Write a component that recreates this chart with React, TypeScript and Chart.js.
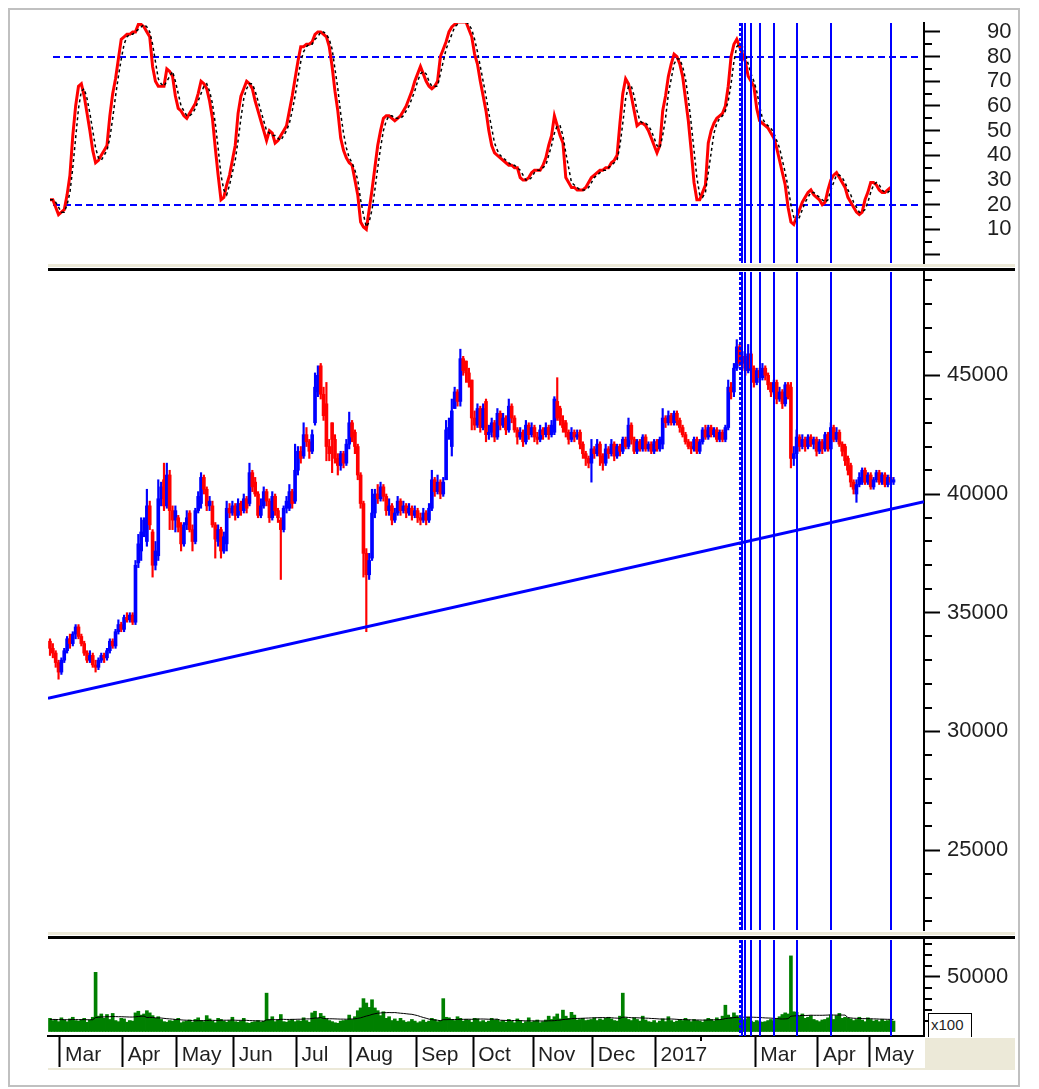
import React, { useEffect, useRef } from 'react';
import { Chart, registerables } from 'chart.js';

Chart.register(...registerables);

// ---------- data ----------
const MONTH_START = [4, 26, 45, 65, 87, 106, 129, 149, 170, 191, 213, 229, 248, 270, 288];
const MONTH_LABELS = ['Mar', 'Apr', 'May', 'Jun', 'Jul', 'Aug', 'Sep', 'Oct', 'Nov', 'Dec', '2017', '', 'Mar', 'Apr', 'May'];

const OPEN = [
  33800,33500,33300,32900,32500,33000,33400,33900,33700,34100,
  34400,34000,33700,33300,33000,33200,32800,32700,33000,33200,
  33100,33400,33800,33600,34200,34500,34300,34800,34700,34900,
  34600,37100,37600,38400,38000,39500,38400,37000,37400,39800,
  40600,39500,40800,39300,38900,39000,38600,37900,38700,39200,
  38500,38000,39300,39600,40700,40200,39500,39500,38700,38000,
  38500,37600,37900,39400,39200,39500,39100,39600,39300,39800,
  39600,40900,40500,40000,39100,39500,40100,39700,39000,39900,
  39300,38900,38500,39400,39400,40100,39700,41000,41800,41600,
  42500,42200,41800,43000,44300,45400,44200,43800,42000,43000,
  42300,41500,41200,41700,41300,42100,43000,42600,42000,40800,
  39600,37500,36600,37300,39200,40000,39800,40300,39900,39300,
  39500,38900,39200,39700,39300,39500,39200,39400,39100,39300,
  39000,38900,39200,38900,39400,40600,40100,40500,40000,40600,
  42700,42000,43600,44300,43900,45700,45600,45100,44800,43200,
  42900,43600,42800,43900,42500,42600,43000,42400,43400,42900,
  43200,42700,43700,43200,42700,42400,42600,42200,42900,42500,
  42800,42400,42300,42700,42500,42800,42500,42600,43900,43600,
  43100,43000,42600,42300,42600,42400,42600,42100,41700,41500,
  41300,41900,41700,42100,41600,41300,41900,41700,42100,41600,
  42000,41800,42300,42000,42900,42300,41800,42200,41900,42400,
  41900,42100,41800,42200,41900,42100,43200,43000,43300,43000,
  43400,43100,42800,42500,42200,42000,41900,42300,41800,42200,
  42700,42400,42800,42500,42700,42300,42600,42300,42800,44500,
  44300,45300,46200,45500,45800,45200,45900,45300,44700,45200,
  44900,45300,45000,44600,44300,44700,44000,44300,43800,44600,
  44500,41500,41700,42400,42000,42300,42000,42400,42100,42300,
  41800,42200,41900,42500,41900,42800,42300,42600,42100,42000,
  41500,41200,40500,40000,40400,40500,41000,40500,40800,40300,
  40600,40900,40500,40800,40400,40700,40500,
];
const HIGH = [
  33900,33700,33400,33000,33100,33500,34000,34100,34200,34500,
  34500,34100,33800,33400,33400,33300,33000,33100,33300,33300,
  33500,33900,33900,34300,34700,34600,34900,35000,35000,35000,
  37200,38300,39000,39000,40200,39700,38500,38000,40600,40500,
  41300,41300,41000,39500,39500,39100,38800,38800,39300,39300,
  38700,39400,40100,40900,40800,40300,39900,39700,38800,38700,
  38600,38400,39700,39600,39700,39600,39800,39700,40000,39900,
  41300,41000,40700,40100,39800,40300,40200,39800,40100,40000,
  39400,39000,39500,39900,40400,40200,42100,42000,42000,43000,
  42800,42300,42700,45100,45400,45500,44500,44700,42300,43000,
  42500,41700,41800,41800,42300,43450,43100,42700,42100,40900,
  39700,37700,37500,40200,40200,40400,40500,40400,40000,39800,
  39600,39400,39900,39800,39700,39600,39600,39500,39500,39400,
  39200,39400,39300,39600,41000,40700,40800,40600,40700,43100,
  43200,44000,44500,44400,46100,45800,45600,45300,44800,43500,
  43800,43700,43800,44000,42900,43200,43100,43600,43500,43400,
  43300,44000,43800,43300,42800,42800,42700,43100,43000,43000,
  42900,42600,42900,42800,43000,42900,43100,44100,44900,43700,
  43300,43100,42700,42800,42700,42700,42700,42200,41800,41600,
  42300,42000,42300,42200,41700,42100,42000,42300,42200,42100,
  42100,42400,42400,43200,43000,42400,42300,42300,42500,42500,
  42200,42200,42300,42300,42400,43600,43300,43500,43400,43500,
  43500,43200,42900,42600,42300,42200,42400,42400,42300,42800,
  42900,42900,42900,42800,42800,42700,42700,42900,44800,44700,
  45500,46500,46300,46000,45900,46300,46000,45400,45300,45300,
  45500,45400,45100,44700,44800,44800,44500,44400,44700,44700,
  44700,42000,42700,42500,42500,42400,42500,42500,42400,42400,
  42300,42300,42600,42600,43000,42900,42800,42700,42200,42100,
  41600,41300,40600,40600,40900,41100,41100,40900,40900,40700,
  41000,41000,40900,40900,40800,40800,40700,
];
const LOW = [
  33200,33100,32700,32200,32400,32900,33300,33500,33600,33900,
  33900,33600,33200,32900,32900,32700,32500,32600,32900,32900,
  33000,33300,33500,33500,34100,34200,34200,34600,34600,34500,
  34500,36900,37200,38200,37800,38500,36500,36800,37200,39500,
  39300,39400,38500,38500,38400,38400,37600,37800,38500,38400,
  37600,37900,39200,39400,40000,39300,39300,38600,37300,37800,
  37300,37500,37600,39000,39100,38900,39000,39100,39200,39200,
  39500,40100,39900,39000,39000,39400,39500,38800,38900,39100,
  38800,36400,38400,39200,39300,39400,39600,40800,41300,41500,
  42000,41500,41700,42900,44100,44000,43100,41400,41400,40900,
  41300,40800,41000,41100,41200,41900,42200,41700,40600,39400,
  36500,34200,36400,37200,39000,39600,39700,39700,39100,39100,
  38700,38800,39100,39100,39200,39000,39100,38900,39000,38800,
  38700,38800,38700,38800,39300,39900,40000,39800,39900,40600,
  42300,41600,43600,43700,43700,45000,44700,44500,42700,42700,
  42800,42600,42700,42200,42300,42400,42200,42300,42700,42800,
  42500,42600,43000,42600,42100,42300,42000,42100,42300,42400,
  42200,42100,42200,42300,42400,42300,42400,42500,43100,42900,
  42600,42400,42100,42200,42200,42300,41900,41500,41200,41100,
  40500,41500,41600,41200,41000,41200,41500,41600,41400,41500,
  41600,41700,41900,41900,42100,41700,41700,41800,41800,41800,
  41800,41700,41700,41800,41800,41900,42800,42900,42900,42900,
  42900,42600,42400,42100,41900,41700,41800,41700,41700,42100,
  42300,42300,42400,42400,42200,42200,42200,42200,42700,44000,
  44100,45200,45400,45300,45000,45100,45100,44500,44600,44700,
  44800,44800,44400,44100,44200,43800,43900,43600,43700,44000,
  41100,41200,41500,41800,41900,41800,41900,42000,41900,41600,
  41700,41700,41800,41800,41800,42200,42200,42000,41600,41200,
  40800,40300,40000,39650,40300,40400,40400,40400,40200,40200,
  40500,40400,40400,40300,40300,40400,40400,
];
const CLOSE = [
  33500,33300,32900,32500,33000,33400,33900,33700,34100,34400,
  34000,33700,33300,33000,33200,32800,32700,33000,33200,33100,
  33400,33800,33600,34200,34500,34300,34800,34700,34900,34600,
  37000,37900,38400,38900,39500,38700,37000,37600,39800,40300,
  39500,40800,39300,38900,39300,38600,37900,38700,39000,38500,
  38000,39300,39900,40700,40200,39500,39700,38700,38100,38500,
  37600,38200,39400,39200,39500,39100,39600,39300,39800,39400,
  40900,40300,40000,39100,39500,40100,39700,39000,39900,39300,
  39000,38500,39400,39700,40100,39600,41000,41800,41500,42500,
  42200,41800,42500,44500,45000,44200,43300,42000,41700,42300,
  41500,41200,41700,41300,42100,43000,42400,42000,40800,39600,
  37500,36600,37200,39200,40000,39800,40300,39900,39300,39500,
  38900,39200,39700,39300,39500,39200,39400,39100,39300,39000,
  38900,39200,38900,39400,40600,40100,40500,40000,40500,42700,
  42800,43500,44300,43900,45700,45200,45100,44700,43200,42900,
  43600,42800,43600,42500,42600,43000,42400,43400,42900,43200,
  42700,43700,43200,42700,42400,42600,42200,42900,42500,42800,
  42400,42300,42700,42500,42800,42500,42900,44000,43200,43100,
  42800,42600,42300,42600,42400,42500,42100,41700,41500,41300,
  41900,41700,42100,41600,41300,41900,41700,42100,41600,42000,
  41800,42300,42000,42900,42300,41800,42200,41900,42400,41900,
  42100,41800,42200,41900,42300,43200,43000,43300,43000,43400,
  43100,42800,42500,42200,42000,41900,42300,41800,42200,42700,
  42400,42800,42500,42700,42300,42600,42300,42800,44500,44300,
  45300,46200,45500,45800,45200,45900,45300,44700,45200,44900,
  45300,45000,44600,44300,44700,44000,44300,43800,44600,44100,
  41500,41700,42400,42000,42300,42000,42400,42100,42300,41800,
  42200,41900,42500,41900,42800,42300,42600,42100,41800,41400,
  41000,40500,40200,40400,40700,41000,40500,40800,40300,40600,
  40900,40500,40800,40400,40700,40500,40600,
];

const STOCH_K = [
  22,22,19,16,17,18,24,32,48,60,
  68,69,64,57,50,42,37,38,40,42,
  44,56,65,71,79,87,88,89,89,90,
  90,93,93,92,90,88,76,70,68,68,
  68,75,74,72,64,59,58,56,55,57,
  59,61,65,70,69,67,62,55,43,32,
  22,23,28,32,38,44,57,64,67,70,
  69,67,62,58,54,50,46,50,49,45,
  46,48,50,52,58,64,71,78,84,84,
  85,85,86,89,90,90,89,88,84,76,
  66,58,47,42,39,37,36,30,24,13,
  11,10,18,26,35,44,50,55,56,56,
  55,54,55,56,58,60,63,66,70,73,
  76,73,70,68,67,68,70,80,83,86,
  90,92,93,94,94,94,94,91,88,81,
  77,70,64,58,50,44,41,40,39,38,
  37,36,36,35,35,31,30,30,31,33,
  34,34,34,36,39,44,48,56,52,48,
  45,31,29,27,27,26,26,26,27,29,
  31,32,33,34,34,35,35,37,38,40,
  53,65,71,69,64,58,52,53,53,52,
  50,47,44,41,44,58,64,72,77,81,
  80,77,72,63,54,42,29,22,22,25,
  28,45,50,53,55,56,57,60,68,80,
  85,87,84,81,78,72,70,68,59,54,
  53,52,51,49,47,43,38,33,28,19,
  13,12,15,18,21,23,25,26,24,23,
  22,20,21,26,30,32,33,31,29,27,
  23,21,19,17,16,17,22,25,29,29,
  28,26,25,25,26,27,
];
const STOCH_D = [
  22,22,21,19,17,17,20,25,35,47,
  59,66,67,63,57,50,43,39,38,40,
  42,47,55,64,72,79,85,88,89,89,
  90,91,92,93,92,90,85,78,71,69,
  68,70,72,74,70,65,60,58,56,56,
  57,59,62,65,68,69,66,61,53,43,
  32,26,24,28,33,38,46,55,63,67,
  69,69,66,62,58,54,50,49,48,48,
  47,46,48,50,53,58,64,71,78,82,
  84,85,85,87,88,90,90,89,87,83,
  75,67,57,49,43,39,37,34,30,22,
  16,11,13,18,26,35,43,50,54,56,
  56,55,55,55,56,58,60,63,66,70,
  73,74,73,70,68,68,68,73,78,83,
  86,89,92,93,94,94,94,93,91,87,
  82,76,70,64,57,51,45,42,40,39,
  38,37,36,36,35,34,32,30,30,31,
  33,34,34,35,36,40,44,49,52,52,
  48,41,35,29,28,27,26,26,26,27,
  29,31,32,33,34,34,35,36,37,38,
  44,53,63,68,68,64,58,54,53,53,
  52,50,47,44,43,48,55,65,71,77,
  79,79,76,71,63,53,42,31,24,23,
  25,33,41,49,53,55,56,58,62,69,
  78,84,85,84,81,77,73,70,66,60,
  55,53,52,51,49,46,43,38,33,27,
  20,15,13,15,18,21,23,25,25,24,
  23,22,21,22,26,29,32,32,31,29,
  26,24,21,19,17,17,18,21,25,28,
  29,28,26,25,25,26,
];

const VOLUME = [
  12000,10000,11000,9000,12500,10500,9000,11500,13000,10000,
  9500,11000,12000,8500,10500,13000,54000,14000,16000,12000,
  15500,11000,16500,10000,9000,12000,11500,8500,10000,9500,
  17000,18500,15000,16000,19000,17000,14500,12000,13500,11000,
  9000,8500,10000,9500,11000,12000,8000,9000,9500,10500,
  8500,11000,12500,10000,9000,14500,11500,9500,8000,12000,
  11000,9500,8500,10000,13000,9000,8500,9500,12000,8000,
  7500,8500,9000,10000,8500,9500,35000,11000,13500,9000,
  10500,15500,9000,8500,10000,11000,9000,10000,9500,12500,
  10000,8500,17000,18500,12000,16500,14000,11500,10000,9000,
  8000,7500,9500,10000,10500,15000,11000,13500,19000,21500,
  30000,26000,22000,29000,21500,19000,14500,18000,12000,13500,
  10000,11500,9500,12000,10000,8500,9000,11000,9500,8000,
  9000,10500,8500,9500,12000,11000,9000,10000,30000,13000,
  12500,11000,10000,13500,12000,9500,11000,10500,8500,12000,
  11500,9000,10000,8500,9500,12000,10500,11000,9000,10000,
  8500,11000,9500,8000,11500,10000,7500,9000,12500,8500,
  9500,10500,8000,9000,10500,14000,11000,13500,16000,11500,
  19500,14000,12000,17500,15000,10500,11000,12000,10000,10500,
  11000,12500,10000,11500,10500,12000,13000,11500,10000,9500,
  14000,35000,12500,11000,10000,12500,11000,9500,14000,10500,
  9000,8500,10000,8000,9500,11500,9000,13500,10000,8500,
  9500,11000,10000,12000,10500,9000,11000,10000,9500,8500,
  10500,12000,11000,9500,12500,11000,14000,24000,15000,13000,
  17000,14500,12000,10500,11000,13000,9500,8500,10000,9000,
  8500,9000,10000,11000,9500,12000,13500,15500,17000,16000,
  69000,18000,17500,14000,16000,12000,13000,14500,11000,10000,
  9000,10500,11000,12500,15000,11000,14500,16500,12000,13000,
  12000,11500,10000,11000,13000,10500,9000,12500,11000,9500,
  10500,9000,11000,9500,10000,10500,9500,
];
const VOLUME_MA = [
  11000,11000,11000,10800,10900,10800,10700,10800,11000,10900,
  10800,10800,10900,10700,10700,10800,12800,13000,13300,13300,
  13500,13500,13700,13600,13500,13500,13400,13300,13200,13200,
  13400,13700,13900,14100,12700,12900,12800,12500,12400,12300,
  12000,11700,11500,11300,11000,11000,10600,10400,10300,10200,
  9900,9800,9900,9900,9900,10100,10200,10200,10100,10200,
  10300,10300,10300,10400,10500,10300,10200,10200,10300,10200,
  10000,9900,9800,9700,9600,9400,10600,10700,10900,10700,
  10800,11100,11100,11000,11000,11100,11100,11200,11200,11400,
  11500,11500,11900,12300,12400,12800,11800,11800,11600,11600,
  11500,11400,11300,11300,11200,11400,11400,11600,12000,12500,
  13300,14100,14700,15600,16200,16700,16900,17200,17200,17300,
  17200,17300,17000,16700,16500,16200,15900,15700,15100,14500,
  13600,12800,12100,11300,10900,10500,10300,9900,10800,10800,
  10900,10900,10900,11000,11100,11100,11200,11200,11100,11300,
  11400,11400,11400,11300,11200,11200,11200,11300,10300,10200,
  10100,10100,10100,10000,10000,10000,9800,9700,9800,9700,
  9700,9700,9600,9600,9600,9800,9800,9900,10300,10400,
  10900,11100,11300,11700,11900,11900,12000,12100,12200,12300,
  12400,12500,12600,12700,12700,12600,12700,12600,12300,12200,
  12000,13100,13100,12800,12600,12500,12500,12400,12300,12200,
  12100,11900,11800,11600,11400,11400,11300,11400,11400,11300,
  11100,10900,10900,10800,10700,10600,10500,10500,10500,10400,
  10500,10600,10600,10600,10800,10900,11100,11800,12100,12300,
  12700,12900,13000,13000,13100,13200,13100,13000,12900,12800,
  12600,12400,12300,12200,12000,11900,11500,11400,11500,11700,
  14000,14200,14400,14500,14700,14600,14700,14900,14800,14800,
  14800,14800,14900,15000,15200,15000,15000,15100,15000,15000,
  12700,12400,12100,12000,11900,11800,11700,11700,11700,11500,
  11500,11300,11300,11200,11100,11100,11000,
];

const STOCH_LEVELS = [80, 20];
const STOCH_TICKS = [0, 10, 20, 30, 40, 50, 60, 70, 80, 90];
const PRICE_TICKS = [25000, 30000, 35000, 40000, 45000];
const VOLUME_TICKS = [50000];
const VLINES = [242, 243, 244, 246, 249, 254, 262, 274, 295];
const VLINE_DASHED = [242];
const TREND = [{ x: -0.7, y: 31400 }, { x: 306.7, y: 39680 }];

// ---------- presentation ----------
const X_MIN = -0.7;
const X_MAX = 306.7;
const FONT = "'Liberation Sans', Arial, sans-serif";
const BLUE = '#0000ff';
const RED = '#ff0000';
const GREEN = '#008000';
const TEXT = '#1f1f1f';
const BEIGE = '#ece9d8';

const steps = (a: number, b: number, s: number, skip?: number) => {
  const r: number[] = [];
  for (let v = a; v <= b; v += s) if (!skip || v % skip !== 0) r.push(v);
  return r;
};
const TOP_MINOR = steps(5, 95, 10);
const PRICE_MINOR = steps(22000, 49000, 1000, 5000);
const VOLUME_MINOR = steps(10000, 80000, 10000, 50000);

const overlay: any = {
  id: 'overlay',
  beforeDatasetsDraw(chart: any, _a: any, opts: any) {
    if (!opts.levels) return;
    const { ctx, chartArea: a } = chart;
    const y = chart.scales.y;
    ctx.save();
    ctx.strokeStyle = BLUE;
    ctx.lineWidth = 2;
    ctx.setLineDash([7, 4]);
    ctx.beginPath();
    for (const v of opts.levels) {
      const py = Math.round(y.getPixelForValue(v));
      ctx.moveTo(a.left + 5, py);
      ctx.lineTo(a.right - 2, py);
    }
    ctx.stroke();
    ctx.restore();
  },
  afterDatasetsDraw(chart: any) {
    const { ctx, chartArea: a } = chart;
    const x = chart.scales.x;
    ctx.save();
    ctx.strokeStyle = BLUE;
    ctx.lineWidth = 2;
    for (const i of VLINES) {
      const px = Math.round(x.getPixelForValue(i));
      ctx.setLineDash(VLINE_DASHED.includes(i) ? [3, 2] : []);
      ctx.beginPath();
      ctx.moveTo(px, a.top);
      ctx.lineTo(px, a.bottom);
      ctx.stroke();
    }
    ctx.restore();
  },
  afterDraw(chart: any, _a: any, opts: any) {
    const { ctx, chartArea: a } = chart;
    const y = chart.scales.y;
    ctx.save();
    ctx.strokeStyle = '#000';
    ctx.lineWidth = 2;
    ctx.setLineDash([]);
    ctx.beginPath();
    for (const v of opts.minor || []) {
      if (v < y.min || v > y.max) continue;
      const py = Math.round(y.getPixelForValue(v));
      ctx.moveTo(a.right, py);
      ctx.lineTo(a.right + 8, py);
    }
    ctx.stroke();
    if (opts.shortTicks) {
      const x = chart.scales.x;
      ctx.beginPath();
      for (const i of opts.shortTicks) {
        const px = Math.round(x.getPixelForValue(i - 0.5));
        ctx.moveTo(px, a.bottom);
        ctx.lineTo(px, a.bottom + 5);
      }
      ctx.stroke();
    }
    ctx.restore();
  },
};

const resetPad = (s: any) => {
  s.paddingTop = 0;
  s.paddingBottom = 0;
  s.paddingLeft = 0;
  s.paddingRight = 0;
};

const yAxis = (min: number, max: number, ticks: number[], padding: number, label: (v: number) => string) => ({
  type: 'linear',
  position: 'right',
  min,
  max,
  afterBuildTicks: (s: any) => {
    s.ticks = ticks.map((v) => ({ value: v }));
  },
  afterFit: (s: any) => {
    s.width = 92;
    resetPad(s);
  },
  border: { display: true, color: '#000', width: 2 },
  grid: { drawOnChartArea: false, drawTicks: true, tickLength: 16, tickColor: '#000', tickWidth: 2, color: '#000' },
  ticks: {
    autoSkip: false,
    padding,
    color: TEXT,
    font: { family: FONT, size: 22 },
    callback: (v: any) => label(Number(v)),
  },
});

const xHidden = {
  type: 'linear',
  min: X_MIN,
  max: X_MAX,
  display: false,
  offset: false,
  grid: { offset: false },
  afterFit: resetPad,
};

const common = (padBottom: number) => ({
  animation: false,
  responsive: false,
  events: [],
  layout: { padding: { left: 8, right: 0, top: 15, bottom: padBottom } },
});

const pts = (arr: number[]) => arr.map((v, i) => ({ x: i, y: v }));

export default function App() {
  const topRef = useRef<HTMLCanvasElement>(null);
  const mainRef = useRef<HTMLCanvasElement>(null);
  const volRef = useRef<HTMLCanvasElement>(null);

  useEffect(() => {
    const colors = CLOSE.map((c, i) => (c >= OPEN[i] ? BLUE : RED));

    const top = new Chart(topRef.current as any, {
      type: 'line',
      data: {
        datasets: [
          { data: pts(STOCH_D), borderColor: '#000', borderWidth: 1.5, borderDash: [3, 3], pointRadius: 0, tension: 0 },
          { data: pts(STOCH_K), borderColor: RED, borderWidth: 3, pointRadius: 0, tension: 0 },
        ],
      },
      options: {
        ...common(15),
        plugins: { legend: { display: false }, tooltip: { enabled: false }, overlay: { levels: STOCH_LEVELS, minor: TOP_MINOR } },
        scales: {
          x: xHidden,
          y: yAxis(-3.6, 93.6, STOCH_TICKS, 47, (v) => (v === 0 ? '' : String(v))),
        },
      } as any,
      plugins: [overlay],
    });

    const main = new Chart(mainRef.current as any, {
      type: 'bar',
      data: {
        datasets: [
          { type: 'line', data: TREND, borderColor: BLUE, borderWidth: 3, pointRadius: 0 } as any,
          {
            type: 'bar',
            data: OPEN.map((o, i) => ({ x: i, y: [o, CLOSE[i]] })),
            backgroundColor: colors,
            barThickness: 3,
            grouped: false,
            minBarLength: 1,
          },
          {
            type: 'bar',
            data: LOW.map((l, i) => ({ x: i, y: [l, HIGH[i]] })),
            backgroundColor: colors,
            barThickness: 1.5,
            grouped: false,
          },
        ],
      },
      options: {
        ...common(15),
        plugins: { legend: { display: false }, tooltip: { enabled: false }, overlay: { minor: PRICE_MINOR } },
        scales: {
          x: xHidden,
          y: yAxis(21636, 49351, PRICE_TICKS, 7, (v) => String(v)),
        },
      } as any,
      plugins: [overlay],
    });

    const vol = new Chart(volRef.current as any, {
      type: 'bar',
      data: {
        datasets: [
          { type: 'line', data: pts(VOLUME_MA), borderColor: '#000', borderWidth: 1, pointRadius: 0 } as any,
          { type: 'bar', data: pts(VOLUME), backgroundColor: GREEN, barThickness: 3, grouped: false },
        ],
      },
      options: {
        ...common(0),
        plugins: {
          legend: { display: false },
          tooltip: { enabled: false },
          overlay: { minor: VOLUME_MINOR, shortTicks: MONTH_START.filter((_, k) => MONTH_LABELS[k] === '') },
        },
        scales: {
          x: {
            type: 'linear',
            position: 'bottom',
            min: X_MIN,
            max: X_MAX,
            offset: false,
            afterBuildTicks: (s: any) => {
              s.ticks = MONTH_START.map((i) => ({ value: i - 0.5 }));
            },
            afterFit: (s: any) => {
              s.height = 32;
              resetPad(s);
            },
            border: { display: true, color: '#000', width: 2 },
            grid: {
              offset: false,
              drawOnChartArea: false,
              drawTicks: true,
              tickLength: 31,
              tickWidth: 2,
              color: '#000',
              tickColor: (c: any) => (MONTH_LABELS[c.index] === '' ? 'rgba(0,0,0,0)' : '#000'),
            },
            ticks: {
              autoSkip: false,
              maxRotation: 0,
              minRotation: 0,
              align: 'start',
              labelOffset: 5,
              padding: -24,
              color: TEXT,
              font: { family: FONT, size: 21 },
              callback: (_v: any, i: number) => MONTH_LABELS[i],
            },
          },
          y: yAxis(-4100, 83500, VOLUME_TICKS, 7, (v) => String(v)),
        },
      } as any,
      plugins: [overlay],
    });

    return () => {
      top.destroy();
      main.destroy();
      vol.destroy();
    };
  }, []);

  const box = (x: number, y: number, w: number, h: number, extra: any = {}) => ({
    position: 'absolute' as const,
    left: x - 8,
    top: y - 8,
    width: w,
    height: h,
    ...extra,
  });

  return (
    <div style={{ position: 'relative', width: 1012, height: 1079, background: '#fff' }}>
      <div style={box(8, 8, 1012, 1079, { border: '2px solid #c0c0c0', boxSizing: 'border-box' })} />
      <div style={box(925, 1038, 90, 30, { background: BEIGE })} />
      <div style={box(40, 8, 976, 270)}>
        <canvas ref={topRef} width={976} height={270} style={{ width: 976, height: 270, display: 'block' }} />
      </div>
      <div style={box(40, 257, 976, 688)}>
        <canvas ref={mainRef} width={976} height={688} style={{ width: 976, height: 688, display: 'block' }} />
      </div>
      <div style={box(40, 925, 976, 143)}>
        <canvas ref={volRef} width={976} height={143} style={{ width: 976, height: 143, display: 'block' }} />
      </div>
      <div style={box(48, 264, 967, 3, { background: BEIGE })} />
      <div style={box(48, 268, 967, 3, { background: '#000' })} />
      <div style={box(48, 932, 967, 3, { background: BEIGE })} />
      <div style={box(48, 936, 967, 3, { background: '#000' })} />
      <div style={box(48, 1068, 967, 2, { background: BEIGE })} />
      <div
        style={box(928, 1013, 44, 24, {
          borderLeft: '1px solid #000',
          borderTop: '1px solid #000',
          borderRight: '1px solid #000',
          boxSizing: 'border-box',
          background: '#fff',
          font: `15px ${FONT}`,
          color: TEXT,
          lineHeight: '22px',
          paddingLeft: 2,
        })}
      >
        x100
      </div>
    </div>
  );
}
